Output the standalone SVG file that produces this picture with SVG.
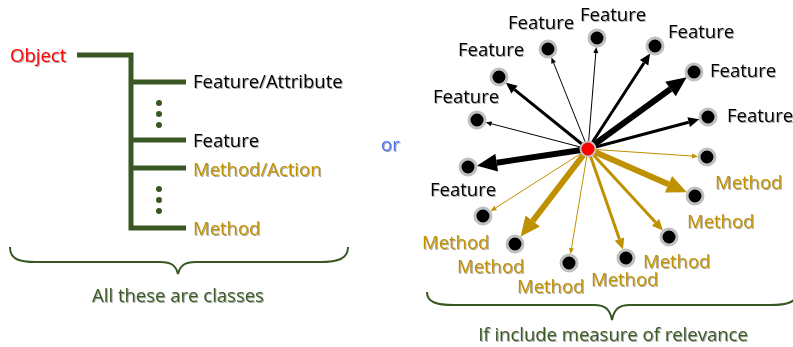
<svg xmlns="http://www.w3.org/2000/svg" width="793" height="347" viewBox="0 0 793 347">
<style>
text{font-family:"Open Sans","Liberation Sans",sans-serif;font-size:18.5px;filter:url(#sh)}
.blk{fill:#000}
.gold{fill:#BF9000}
.red{fill:#FF0000}
.grn{fill:#3B5A26}
.or{fill:#4C6EF5}
.tree{fill:none;stroke:#385723;stroke-width:5}
.brace{fill:none;stroke:#385723;stroke-width:2}
.dot{fill:#385723}
.nd{fill:#000;stroke:#C0C0C0;stroke-width:3}
.ctr{fill:#FF0000;stroke:#C0C0C0;stroke-width:2}
.kb{stroke:#000;fill:none}
.kg{stroke:#BF9000;fill:none}
.s{stroke-width:1}
.m{stroke-width:3}
.l{stroke-width:6}
</style>
<defs>
<filter id="sh" x="-5%" y="-20%" width="110%" height="140%">
<feDropShadow dx="1" dy="1" stdDeviation="0.7" flood-color="#000" flood-opacity="0.35"/>
</filter>
<marker id="sb" markerUnits="userSpaceOnUse" orient="auto" refX="0" refY="0" markerWidth="30" markerHeight="30" overflow="visible"><path d="M0,-2.5 L6,0 L0,2.5 Z" fill="#000"/></marker>
<marker id="mb" markerUnits="userSpaceOnUse" orient="auto" refX="0" refY="0" markerWidth="30" markerHeight="30" overflow="visible"><path d="M0,-5 L11,0 L0,5 Z" fill="#000"/></marker>
<marker id="lb" markerUnits="userSpaceOnUse" orient="auto" refX="0" refY="0" markerWidth="30" markerHeight="30" overflow="visible"><path d="M0,-9 L20,0 L0,9 Z" fill="#000"/></marker>
<marker id="sg" markerUnits="userSpaceOnUse" orient="auto" refX="0" refY="0" markerWidth="30" markerHeight="30" overflow="visible"><path d="M0,-2.5 L6,0 L0,2.5 Z" fill="#BF9000"/></marker>
<marker id="mg" markerUnits="userSpaceOnUse" orient="auto" refX="0" refY="0" markerWidth="30" markerHeight="30" overflow="visible"><path d="M0,-5 L11,0 L0,5 Z" fill="#BF9000"/></marker>
<marker id="lg" markerUnits="userSpaceOnUse" orient="auto" refX="0" refY="0" markerWidth="30" markerHeight="30" overflow="visible"><path d="M0,-9 L20,0 L0,9 Z" fill="#BF9000"/></marker>
</defs>

<!-- Left: class tree -->
<g id="tree-connectors">
<path class="tree" d="M77,55 H131 V228 H186 M131,82 H186 M131,140 H186 M131,168 H186"/>
</g>
<g id="ellipsis-1"><circle class="dot" cx="159" cy="103" r="3"/><circle class="dot" cx="159" cy="114" r="3"/><circle class="dot" cx="159" cy="125" r="3"/></g>
<g id="ellipsis-2"><circle class="dot" cx="159" cy="189" r="3"/><circle class="dot" cx="159" cy="200" r="3"/><circle class="dot" cx="159" cy="211" r="3"/></g>
<g id="object"><text class="red" x="10" y="62">Object</text></g>
<g id="feature-attribute"><text class="blk" x="193" y="88">Feature/Attribute</text></g>
<g id="feature-left"><text class="blk" x="193" y="147">Feature</text></g>
<g id="method-action"><text class="gold" x="193" y="176">Method/Action</text></g>
<g id="method-left"><text class="gold" x="193" y="235">Method</text></g>
<g id="brace-left">
<path class="brace" d="M10,247 C10,259 18,262 36,262 L160,262 C172,262 176,266 178,274 C180,266 184,262 196,262 L320,262 C338,262 348,259 348,247"/>
<text class="grn" x="178" y="302" text-anchor="middle">All these are classes</text>
</g>

<g id="or"><text class="or" x="381" y="151">or</text></g>

<!-- Right: relevance graph -->
<g id="connectors">
<line class="kb s" x1="588" y1="149" x2="553.6" y2="62.9" marker-end="url(#sb)"/>
<line class="kb s" x1="588" y1="149" x2="595.8" y2="53.0" marker-end="url(#sb)"/>
<line class="kb m" x1="588" y1="149" x2="644.1" y2="62.8" marker-end="url(#mb)"/>
<line class="kb l" x1="588" y1="149" x2="670.5" y2="89.0" marker-end="url(#lb)"/>
<line class="kb m" x1="588" y1="149" x2="688.7" y2="122.2" marker-end="url(#mb)"/>
<line class="kb m" x1="588" y1="149" x2="514.5" y2="89.6" marker-end="url(#mb)"/>
<line class="kb s" x1="588" y1="149" x2="491.5" y2="123.8" marker-end="url(#sb)"/>
<line class="kb l" x1="588" y1="149" x2="496.7" y2="162.7" marker-end="url(#lb)"/>
<line class="kg s" x1="588" y1="149" x2="692.0" y2="156.0" marker-end="url(#sg)"/>
<line class="kg l" x1="588" y1="149" x2="668.5" y2="184.3" marker-end="url(#lg)"/>
<line class="kg m" x1="588" y1="149" x2="655.5" y2="222.3" marker-end="url(#mg)"/>
<line class="kg m" x1="588" y1="149" x2="619.4" y2="239.1" marker-end="url(#mg)"/>
<line class="kg s" x1="588" y1="149" x2="571.5" y2="248.2" marker-end="url(#sg)"/>
<line class="kg l" x1="588" y1="149" x2="532.7" y2="221.0" marker-end="url(#lg)"/>
<line class="kg s" x1="588" y1="149" x2="495.6" y2="207.9" marker-end="url(#sg)"/>
</g>

<g id="center"><circle class="ctr" cx="588" cy="149" r="7.5"/></g>

<g id="f1"><circle class="nd" cx="548" cy="49" r="8"/><text class="blk" x="508" y="29">Feature</text></g>
<g id="f2"><circle class="nd" cx="597" cy="38" r="8"/><text class="blk" x="580" y="21">Feature</text></g>
<g id="f3"><circle class="nd" cx="655" cy="46" r="8"/><text class="blk" x="668" y="38">Feature</text></g>
<g id="f4"><circle class="nd" cx="694" cy="72" r="8"/><text class="blk" x="710" y="77">Feature</text></g>
<g id="f5"><circle class="nd" cx="708" cy="117" r="8"/><text class="blk" x="727" y="122">Feature</text></g>
<g id="f7"><circle class="nd" cx="499" cy="77" r="8"/><text class="blk" x="458" y="56">Feature</text></g>
<g id="f8"><circle class="nd" cx="477" cy="120" r="8"/><text class="blk" x="433" y="103">Feature</text></g>
<g id="f9"><circle class="nd" cx="468" cy="167" r="8"/><text class="blk" x="430" y="196">Feature</text></g>

<g id="m6"><circle class="nd" cx="707" cy="157" r="8"/><text class="gold" x="715" y="189">Method</text></g>
<g id="m10"><circle class="nd" cx="695" cy="196" r="8"/><text class="gold" x="687" y="228">Method</text></g>
<g id="m11"><circle class="nd" cx="669" cy="237" r="8"/><text class="gold" x="643" y="268">Method</text></g>
<g id="m12"><circle class="nd" cx="626" cy="258" r="8"/><text class="gold" x="591" y="286">Method</text></g>
<g id="m13"><circle class="nd" cx="569" cy="263" r="8"/><text class="gold" x="517" y="293">Method</text></g>
<g id="m14"><circle class="nd" cx="515" cy="244" r="8"/><text class="gold" x="457" y="273">Method</text></g>
<g id="m15"><circle class="nd" cx="483" cy="216" r="8"/><text class="gold" x="422" y="249">Method</text></g>

<g id="brace-right">
<path class="brace" d="M427,292 C427,302 436,305 454,305 L594,305 C606,305 610,310 612,320 C614,310 618,305 630,305 L770,305 C788,305 797,302 797,292"/>
<text class="grn" x="613" y="341" text-anchor="middle">If include measure of relevance</text>
</g>
</svg>
